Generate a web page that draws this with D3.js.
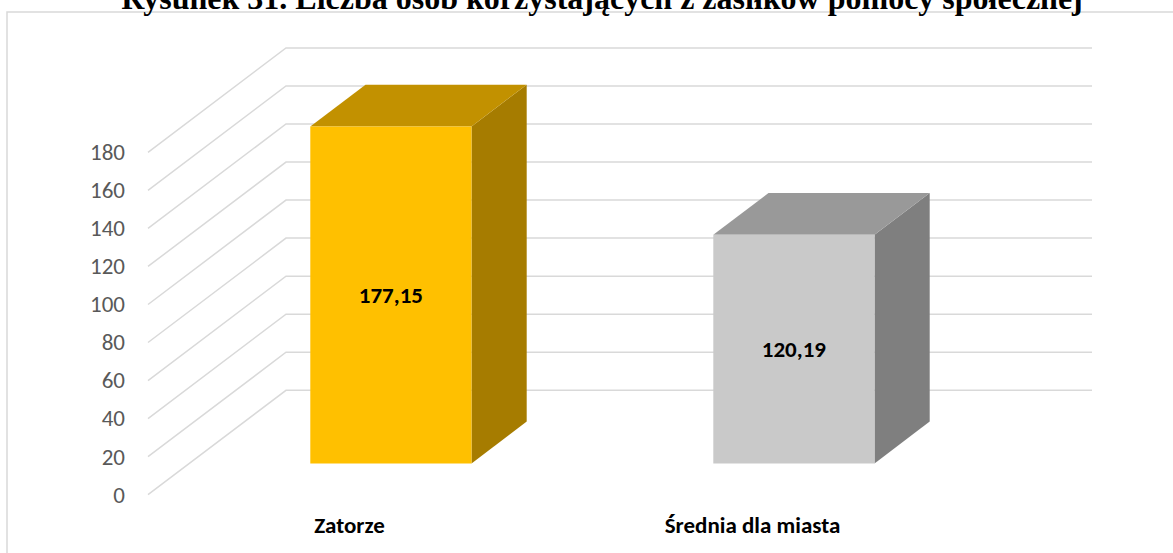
<html>
<head>
  <meta charset="utf8">
  <title>Rysunek 31</title>
  <style>
  * { margin: 0; padding: 0; }
  body { background: #fff; }
  .grid { fill: none; stroke: #d9d9d9; stroke-width: 1.5px; }
  .tick text { font-family: Carlito, "Liberation Sans", sans-serif; font-size: 23px; fill: #595959; }
  .cat { font-family: Carlito, "Liberation Sans", sans-serif; font-weight: bold; font-size: 23px; fill: #000; }
  .val { font-family: Carlito, "Liberation Sans", sans-serif; font-weight: bold; font-size: 23px; fill: #000; }
  .title { font-family: "Liberation Serif", "Times New Roman", serif; font-weight: bold; font-size: 32px; }
  </style>
</head>
<body>
  <script src="https://cdn.jsdelivr.net/npm/d3@7"></script>
  <script>
  // data
  const categories = ["Zatorze", "Średnia dla miasta"];
  const values = [177.15, 120.19];
  const yTicks = [0, 20, 40, 60, 80, 100, 120, 140, 160, 180];
  const title = "Rysunek 31. Liczba osób korzystających z zasiłków pomocy społecznej";

  // face colours per bar: front, top, side
  const faceColors = [
    { front: "#ffc000", top: "#c29100", side: "#a67c00" },
    { front: "#c9c9c9", top: "#999999", side: "#7f7f7f" }
  ];

  const W = 1173, H = 553;
  const depthX = 138, depthY = 104.4;   // full wall depth offset

  const svg = d3.select("body").append("svg")
    .attr("width", W).attr("height", H)
    .attr("viewBox", `0 0 ${W} ${H}`);

  // outer border
  svg.append("rect")
    .attr("x", 7).attr("y", 12)
    .attr("width", W + 10).attr("height", H + 10)
    .attr("fill", "none").attr("stroke", "#d9d9d9").attr("stroke-width", 1.5);

  const y = d3.scaleLinear().domain([0, 180]).range([494.7, 152.3]);
  const x = d3.scaleBand().domain(categories).range([148, 954]);

  const proj = (px, v, t) => [px + depthX * t, y(v) - depthY * t];

  const g = svg.append("g");

  // gridlines: side wall diagonal then back wall horizontal
  g.selectAll(".grid")
    .data(yTicks)
    .enter()
    .append("path")
    .classed("grid", true)
    .attr("d", v => {
      const a = proj(x.range()[0], v, 0);
      const b = proj(x.range()[0], v, 1);
      const c = proj(x.range()[1], v, 1);
      return `M${a}L${b}L${c}`;
    });

  // y axis labels
  const axis = svg.append("g")
    .attr("transform", `translate(${x.range()[0]},0)`)
    .call(d3.axisLeft(y).tickValues(yTicks).tickSize(0).tickPadding(23));
  axis.select(".domain").remove();

  // 3d bars
  const t0 = 0.3, t1 = 0.7;
  const bars = g.selectAll(".bar")
    .data(categories.map((c, i) => ({ c, v: values[i], col: faceColors[i] })))
    .enter()
    .append("g")
    .classed("bar", true);

  const pts = arr => arr.map(p => p.join(",")).join(" ");

  bars.each(function (d) {
    const sel = d3.select(this);
    const xl = x(d.c) + x.bandwidth() * 0.3;
    const xr = x(d.c) + x.bandwidth() * 0.7;
    // side
    sel.append("polygon").attr("fill", d.col.side)
      .attr("points", pts([proj(xr, 0, t0), proj(xr, 0, t1), proj(xr, d.v, t1), proj(xr, d.v, t0)]));
    // top
    sel.append("polygon").attr("fill", d.col.top)
      .attr("points", pts([proj(xl, d.v, t0), proj(xl, d.v, t1), proj(xr, d.v, t1), proj(xr, d.v, t0)]));
    // front
    sel.append("polygon").attr("fill", d.col.front)
      .attr("points", pts([proj(xl, 0, t0), proj(xr, 0, t0), proj(xr, d.v, t0), proj(xl, d.v, t0)]));
  });

  const fmt = d3.formatLocale({ decimal: ",", thousands: " ", grouping: [3], currency: ["", " zł"] }).format(".2f");

  bars.append("text")
    .classed("val", true)
    .attr("x", d => proj(x(d.c) + x.bandwidth() / 2, 0, t0)[0])
    .attr("y", d => (proj(0, 0, t0)[1] + proj(0, d.v, t0)[1]) / 2)
    .attr("text-anchor", "middle")
    .attr("dominant-baseline", "central")
    .text(d => fmt(d.v));

  // category labels, centred under each band
  svg.selectAll(".cat")
    .data(categories)
    .enter()
    .append("text")
    .classed("cat", true)
    .attr("x", d => x(d) + x.bandwidth() / 2)
    .attr("y", 533)
    .attr("text-anchor", "middle")
    .text(d => d);

  // title, cut off at the top like the source
  svg.append("text")
    .classed("title", true)
    .attr("x", 602).attr("y", 9)
    .attr("text-anchor", "middle")
    .text(title);
  </script>
</body>
</html>
